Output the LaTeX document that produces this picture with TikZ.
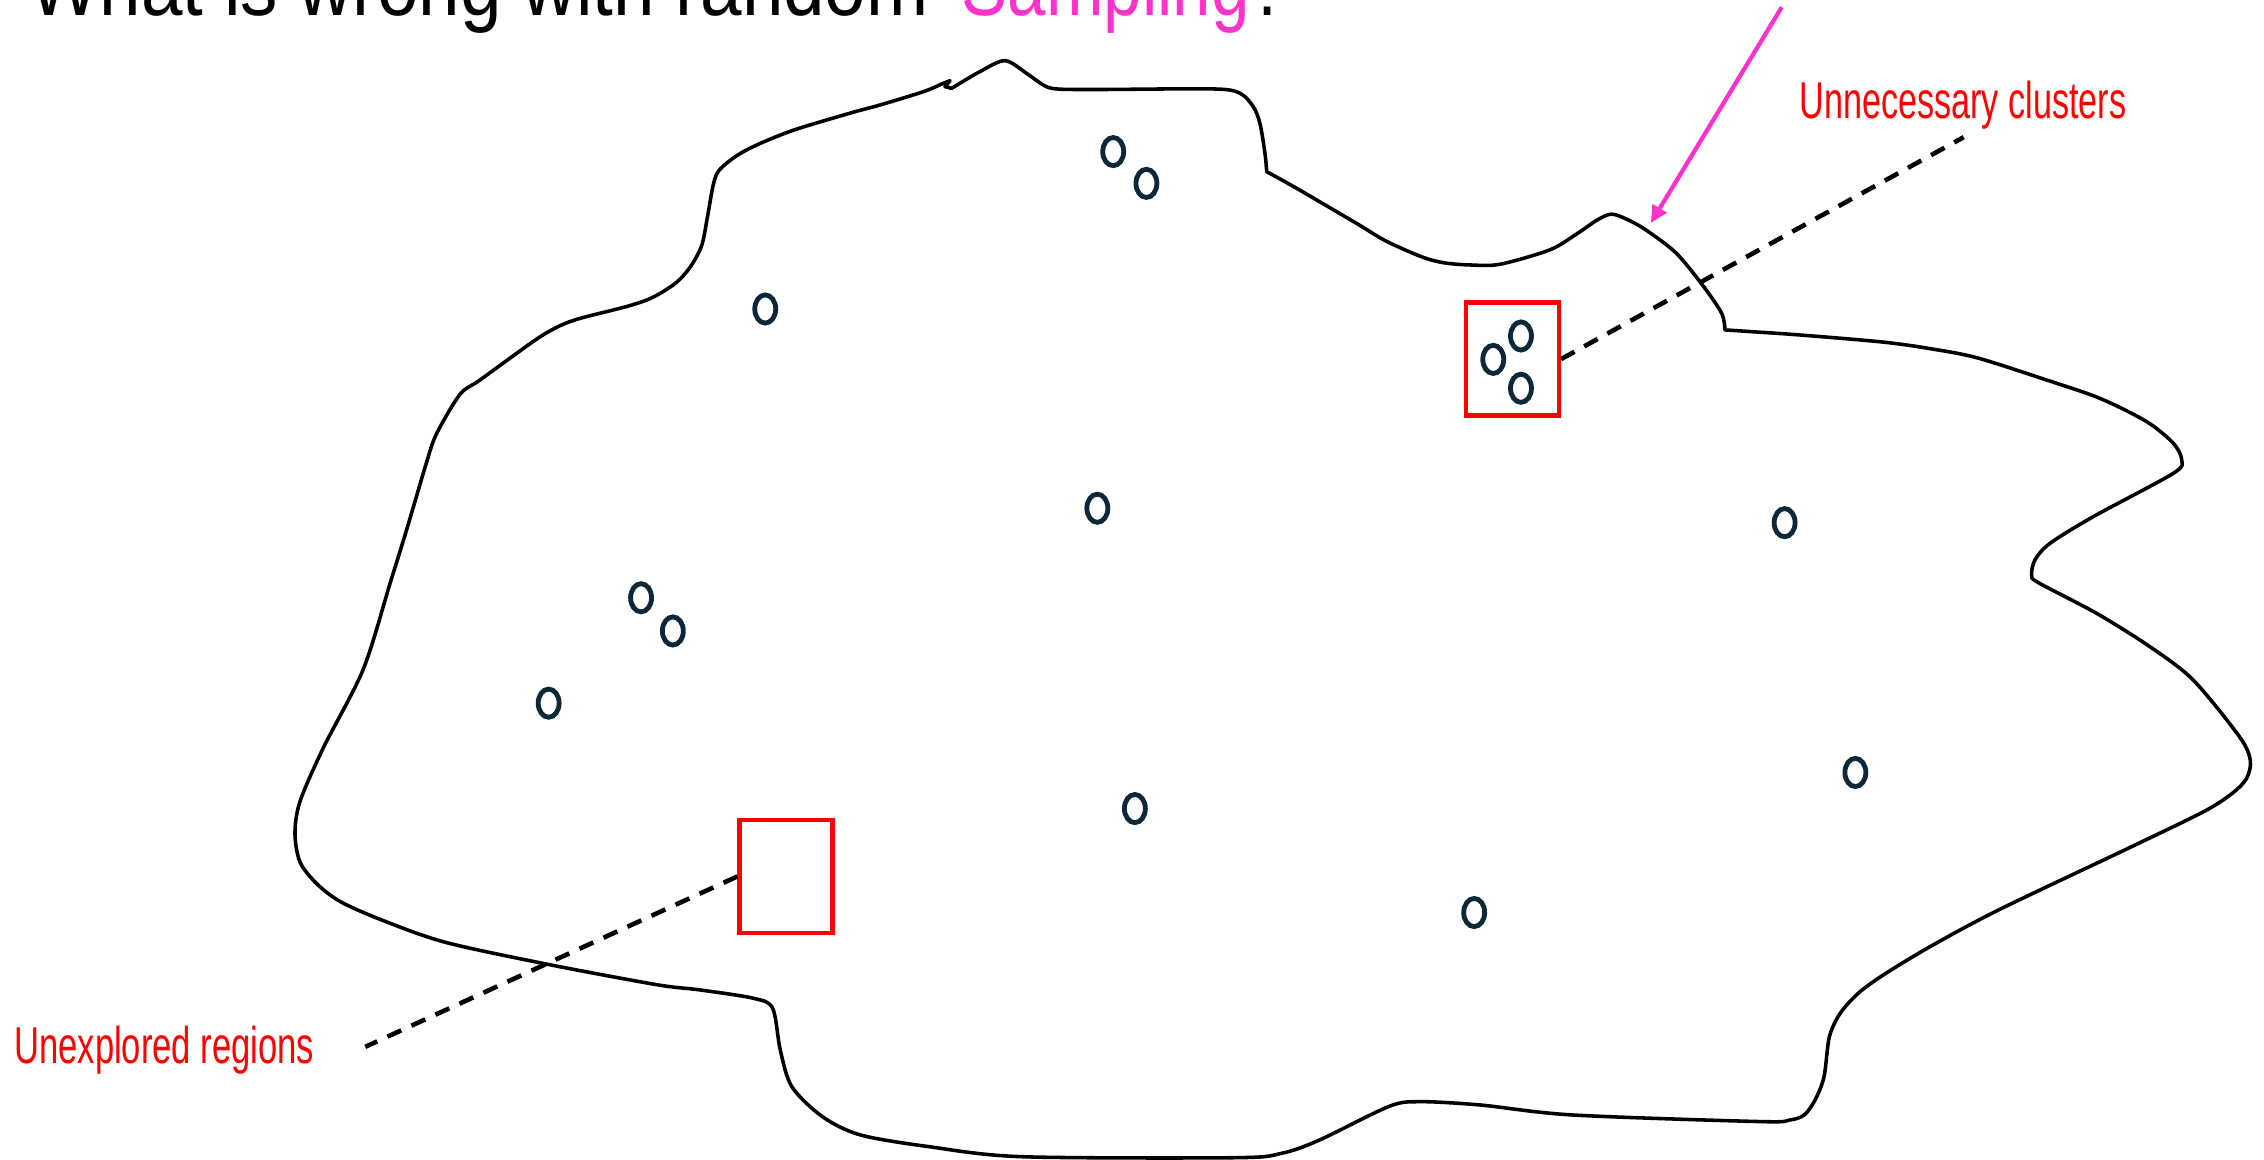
\documentclass[tikz,border=0pt]{standalone}
\usepackage{fontspec}
\setmainfont{Liberation Sans}
\usepackage{graphicx}
\usetikzlibrary{shapes.geometric,arrows.meta}
\definecolor{mag}{RGB}{255,51,204}
\definecolor{navy}{RGB}{12,40,56}
\definecolor{redc}{RGB}{255,0,0}
\begin{document}
\begin{tikzpicture}[x=0.01cm,y=-0.01cm,
 outline/.style={draw=black, line width=0.7pt, line join=round},
 sample/.style={ellipse, draw=navy, line width=0.95pt, minimum width=1.45mm, minimum height=1.95mm, inner sep=0pt},
 regionbox/.style={rectangle, draw=redc, line width=0.85pt, minimum width=6.44mm, minimum height=7.83mm, inner sep=0pt},
 leader/.style={draw=black, line width=0.9pt, dash pattern=on 3pt off 2.2pt},
 pointer/.style={draw=mag, line width=0.85pt, -{Triangle[length=1.2mm,width=1.1mm]}},
 lbl/.style={text=redc, font=\fontsize{10.2}{12}\selectfont, inner sep=0pt, anchor=base west},
 titletext/.style={font=\fontsize{17}{20}\selectfont, inner sep=0pt, anchor=base west}]
\useasboundingbox (0,0) rectangle (1568,803);
\clip (0,0) rectangle (1568,803);

% title (cut at the top edge, as in the reference)
\node[titletext] (ttl) at (19.6,10.4) {\scalebox{0.864}[1]{What is wrong with random}\hspace{6.5pt}\textcolor{mag}{\scalebox{0.8}[1]{Sampling}}\scalebox{0.8}[1]{?}};

% region outline
\draw[outline] plot[smooth, tension=0.5] coordinates {(659,61.2) (678.7,49.6) (696,42) (711,50.8) (722.6,58.9) (731.8,61.6) (760,62) (840.3,61.6) (858.8,64.6) (868,73.9) (872.6,85.4) (876.1,106.2) (877.3,118.9)}
 -- plot[smooth, tension=0.5] coordinates {(877.3,118.9) (898,130.4) (940,155) (960,167) (985,178) (1000,182) (1018,183.5) (1039,183) (1073.5,173) (1092,162) (1106,152.5) (1116,148.3) (1127,152) (1140,159.3) (1161,175.4) (1180,198.6) (1192.4,217) (1194.7,228.5)}
 -- plot[smooth, tension=0.5] coordinates {(1194.7,228.5) (1210,229.5) (1246.6,232) (1305,237) (1340,242) (1370,248) (1417.5,263.2) (1454.4,275.9) (1486.7,292) (1505.2,307) (1511,318.6) (1505.2,327.8) (1449.8,357.8) (1419.8,376.3) (1409.4,387.8) (1407.1,398.2) (1411.7,403.5) (1452.1,424.8) (1489,447.9) (1519,471) (1551,510.2) (1558.5,526.4) (1556,539) (1546.1,549.4) (1526.1,562.2) (1476.3,586.4) (1384.2,630.2) (1336.8,655.6) (1304.4,675.2) (1287,687.9) (1274.5,701.8) (1267,718) (1263.3,745.7) (1257.1,761.8) (1249.6,772.2) (1239.6,775.7) (1219.7,776.8) (1088.9,772.2) (1025.3,765.3) (982.9,763) (961.7,766.4) (914,789.5) (887.5,798.8) (855.7,801.8) (707.4,801.1) (643.7,794.2) (596.1,786.1) (569.6,773.4) (548.4,752.6) (540.4,727.2) (535.1,698.3) (521.9,691.4) (484.8,685.6) (455,682) (380,668) (308,652.5) (263.2,636.7) (235.5,624.3) (219.3,612) (207.8,597.1) (204.3,577.3) (207.8,555) (223.9,518) (251.6,463.5) (270.1,404.2) (281.6,367) (295.5,320) (302.4,300.3) (318.6,273.1) (332.4,263.2) (370,236) (385,227) (400,221) (435,212) (452,206) (468,196) (478,185) (486,170) (490,150) (494,128) (498,118) (510,108) (525,100) (550,90) (590,78) (609.5,72.7) (639.5,63.5) (653.3,57.7) (658,55.9)}
 -- (654.5,60) -- cycle;

% samples
\node[sample] (s1) at (771,105) {};
\node[sample] (s2) at (794,127) {};
\node[sample] (s3) at (530,214) {};
\node[sample] (s4) at (1053.4,232.7) {};
\node[sample] (s5) at (1034.2,248.9) {};
\node[sample] (s6) at (1053.4,268.9) {};
\node[sample] (s7) at (760,352) {};
\node[sample] (s8) at (1236,362) {};
\node[sample] (s9) at (444,414) {};
\node[sample] (s10) at (466,437) {};
\node[sample] (s11) at (380,487) {};
\node[sample] (s12) at (1285,535) {};
\node[sample] (s13) at (786,560) {};
\node[sample] (s14) at (1021,632) {};

% red boxes
\node[regionbox] (cluster) at (1047.5,248.7) {};
\node[regionbox] (empty) at (544.4,607) {};

% labels
\node[lbl] (lclust) at (1245.6,82.4) {\scalebox{0.66}[1]{Unnecessary clusters}};
\node[lbl] (lempty) at (9.2,736.4) {\scalebox{0.668}[1]{Unexplored regions}};

% dashed leaders
\coordinate (c1) at (1360,95);
\coordinate (c2) at (253,725);
\draw[leader] (cluster.east) -- (c1);
\draw[leader] (empty.west) -- (c2);

% magenta pointer
\coordinate (a0) at (1234,5);
\coordinate (a1) at (1143.3,154.5);
\draw[pointer] (a0) -- (a1);
\end{tikzpicture}
\end{document}
